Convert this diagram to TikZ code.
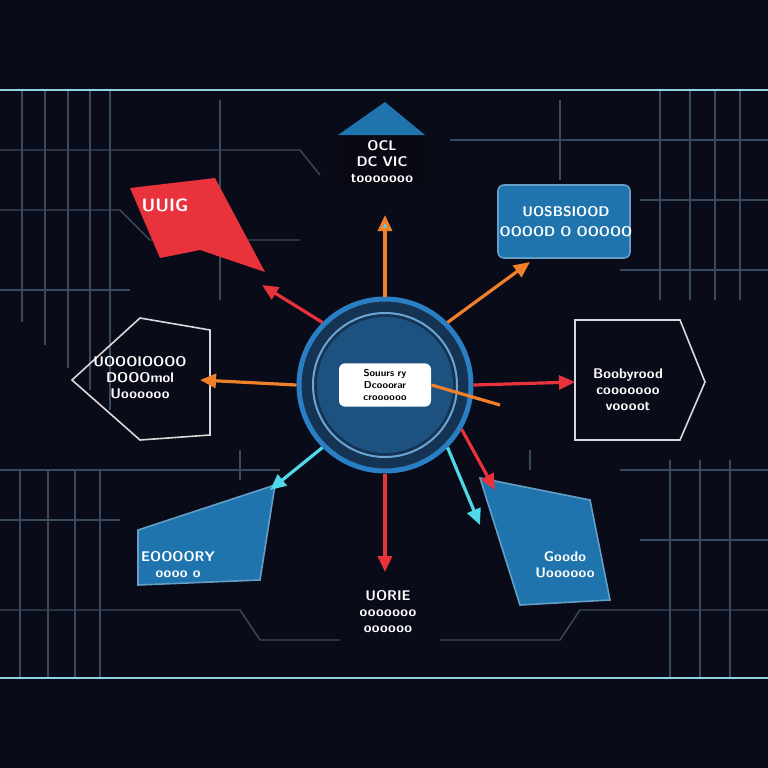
\documentclass[tikz,border=0pt]{standalone}
\usepackage{xcolor}
\usepackage{tikz}
\usetikzlibrary{arrows.meta,positioning,calc,shapes.geometric}
\definecolor{bgnavy}{HTML}{0A0B18}
\definecolor{wire}{HTML}{3A4A5E}
\definecolor{railcyan}{HTML}{8FD3E6}
\definecolor{hubblue}{HTML}{2A7FC4}
\definecolor{cardblue}{HTML}{1F74AE}
\definecolor{flagred}{HTML}{E8323C}
\definecolor{linkorange}{HTML}{F0802A}
\definecolor{tipcyan}{HTML}{4FD8E8}
\begin{document}
\begin{tikzpicture}[x=0.5pt,y=-0.5pt,
    label/.style={text=white, font=\sffamily\bfseries\scriptsize, align=center},
    card/.style={fill=cardblue, draw=cardblue!70!white, line width=0.8pt},
    panel/.style={draw=white!85!black, line width=0.8pt},
    link/.style={line width=1.6pt, -{Triangle[length=8pt,width=7pt]}},
    wires/.style={draw=wire, line width=0.7pt}
]
    % background
    \fill[bgnavy] (0,0) rectangle (768,768);
    \useasboundingbox (0,0) rectangle (768,768);

    % circuit wires
    \foreach \x in {22,45,68,90,110} \draw[wires] (\x,90) -- (\x,{300+\x});
    \foreach \x in {660,690,715,740} \draw[wires] (\x,90) -- (\x,300);
    \foreach \x in {20,48,75,100} \draw[wires] (\x,470) -- (\x,678);
    \foreach \x in {670,700,730} \draw[wires] (\x,460) -- (\x,678);
    \draw[wires] (0,150) -- (300,150) -- (320,175);
    \draw[wires] (0,210) -- (120,210) -- (150,240) -- (300,240);
    \draw[wires] (450,140) -- (768,140);
    \draw[wires] (640,200) -- (768,200);
    \draw[wires] (620,270) -- (768,270);
    \draw[wires] (0,290) -- (130,290);
    \draw[wires] (0,470) -- (280,470);
    \draw[wires] (0,520) -- (120,520);
    \draw[wires] (0,610) -- (240,610) -- (260,640) -- (340,640);
    \draw[wires] (440,640) -- (560,640) -- (580,610) -- (768,610);
    \draw[wires] (620,470) -- (768,470);
    \draw[wires] (640,540) -- (768,540);
    \draw[wires] (220,100) -- (220,300);
    \draw[wires] (560,100) -- (560,180);
    \draw[wires] (240,450) -- (240,480);
    \draw[wires] (530,450) -- (530,470);

    % rails
    \draw[railcyan, line width=1pt] (0,90) -- (768,90);
    \draw[railcyan, line width=1pt] (0,678) -- (768,678);

    % hub
    \node[circle, minimum size=86pt, fill=hubblue!35!bgnavy, draw=hubblue, line width=2.5pt] (ring) at (385,385) {};
    \draw[hubblue!70!white, line width=1pt] (ring.center) circle (72);
    \fill[hubblue!60!bgnavy] (ring.center) circle (68);
    \node[fill=white, rounded corners=3pt, text width=40pt, inner sep=3pt,
          font=\sffamily\bfseries\tiny, align=center, text=black]
          (hub) at (ring.center) {Souurs ry\\ Dcooorar\\ croooooo};

    % top node
    \fill[bgnavy!80!black] (338,135) -- (385,102) -- (425,135) -- (425,185) -- (338,185) -- cycle;
    \fill[cardblue] (338,135) -- (385,102) -- (425,135) -- cycle;
    \node[label] (top) at (382,162) {OCL\\ DC VIC\\ tooooooo};
    \coordinate (topend) at (385,215);

    % top-left red flag
    \fill[flagred] (130,188) -- (215,178) -- (265,272) -- (200,250) -- (160,258) -- cycle;
    \node[label, font=\sffamily\bfseries\small] (flag) at (165,205) {UUIG};

    % top-right card
    \draw[card, rounded corners=3pt] (498,185) rectangle (630,258);
    \node[label] (tr) at (566,222) {UOSBSIOOD\\[2pt] OOOOD O OOOOO};

    % left panel
    \draw[panel] (72,380) -- (140,318) -- (210,330) -- (210,435) -- (140,440) -- cycle;
    \node[label] (left) at (140,378) {UOOOIOOOO\\ DOOOmol\\ Uoooooo};

    % right panel
    \draw[panel] (575,320) -- (680,320) -- (705,382) -- (680,440) -- (575,440) -- cycle;
    \node[label] (right) at (628,390) {Boobyrood\\ cooooooo\\ voooot};

    % bottom-left card
    \draw[card] (138,530) -- (275,485) -- (260,580) -- (138,585) -- cycle;
    \node[label] (bl) at (178,565) {EOOOORY\\ oooo o};

    % bottom-right card
    \draw[card] (480,478) -- (590,500) -- (610,600) -- (520,605) -- cycle;
    \node[label] (br) at (565,565) {Goodo\\ Uoooooo};

    % bottom text
    \node[label] (bottom) at (388,612) {UORIE\\ ooooooo\\ oooooo};
    \coordinate (botend) at (385,572);

    % connectors
    \draw[link, linkorange, -{Triangle[length=8pt,width=7pt,fill=tipcyan]}] (ring.north) -- (topend);
    \draw[link, flagred] (ring.north west) -- (262,285);
    \draw[link, linkorange] (ring.north east) -- (530,262);
    \draw[link, linkorange] (ring.west) -- (200,380);
    \draw[link, flagred] (ring.east) -- (575,382);
    \draw[link, linkorange, -] (hub.east) -- (500,405);
    \draw[link, tipcyan] (ring.south west) -- (270,490);
    \draw[link, tipcyan] (ring.south east) -- (480,525);
    \draw[link, flagred] (ring.-30) -- (495,490);
    \draw[link, flagred] (ring.south) -- (botend);
\end{tikzpicture}
\end{document}
